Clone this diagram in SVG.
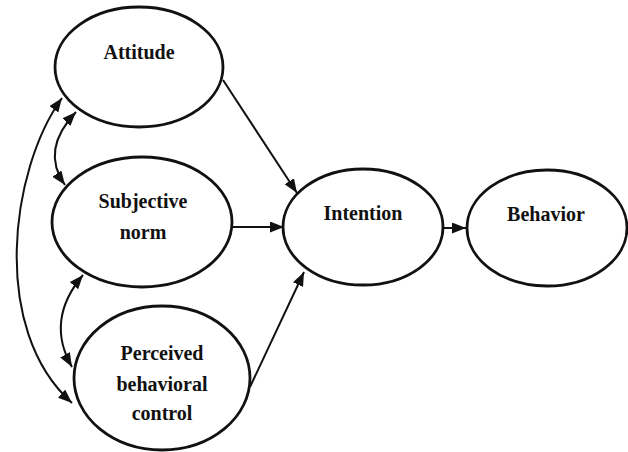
<svg xmlns="http://www.w3.org/2000/svg" width="628" height="452" viewBox="0 0 628 452">
<defs>
<marker id="ah" viewBox="0 0 14 11" refX="14" refY="5.5" markerWidth="14" markerHeight="11" markerUnits="userSpaceOnUse" orient="auto-start-reverse">
<path d="M0,0 L14,5.5 L0,11 Z" fill="#111"/>
</marker>
</defs>
<style>
.node ellipse{fill:#fff;stroke:#111;stroke-width:2.8}
.node text{font-family:"Liberation Serif","Times New Roman",serif;font-weight:bold;font-size:20px;fill:#111;text-anchor:middle}
.conn path{fill:none;stroke:#111;stroke-width:2}
</style>
<rect width="628" height="452" fill="#fff"/>
<g id="connectors" class="conn">
<path d="M223,80 L297,193" marker-end="url(#ah)"/>
<path d="M233,227 L284,227" marker-end="url(#ah)"/>
<path d="M250,387 L304,272" marker-end="url(#ah)"/>
<path d="M443,228 L466,228" marker-end="url(#ah)"/>
<path d="M76,112 Q40,150 65,185" marker-start="url(#ah)" marker-end="url(#ah)"/>
<path d="M83,275 Q45,320 72,367" marker-start="url(#ah)" marker-end="url(#ah)"/>
<path d="M62,98 C10,170 -10,330 72,403" marker-start="url(#ah)" marker-end="url(#ah)"/>
</g>
<g id="attitude" class="node">
<ellipse cx="139" cy="67" rx="84" ry="60"/>
<text x="139" y="59">Attitude</text>
</g>
<g id="subjective-norm" class="node">
<ellipse cx="142" cy="222" rx="90" ry="65"/>
<text x="143" y="208">Subjective</text>
<text x="143" y="239">norm</text>
</g>
<g id="pbc" class="node">
<ellipse cx="162" cy="378" rx="88" ry="72"/>
<text x="162" y="360">Perceived</text>
<text x="162" y="391">behavioral</text>
<text x="162" y="420">control</text>
</g>
<g id="intention" class="node">
<ellipse cx="363" cy="227" rx="80" ry="58"/>
<text x="363" y="220">Intention</text>
</g>
<g id="behavior" class="node">
<ellipse cx="547" cy="228" rx="80" ry="58"/>
<text x="546" y="221">Behavior</text>
</g>
</svg>
